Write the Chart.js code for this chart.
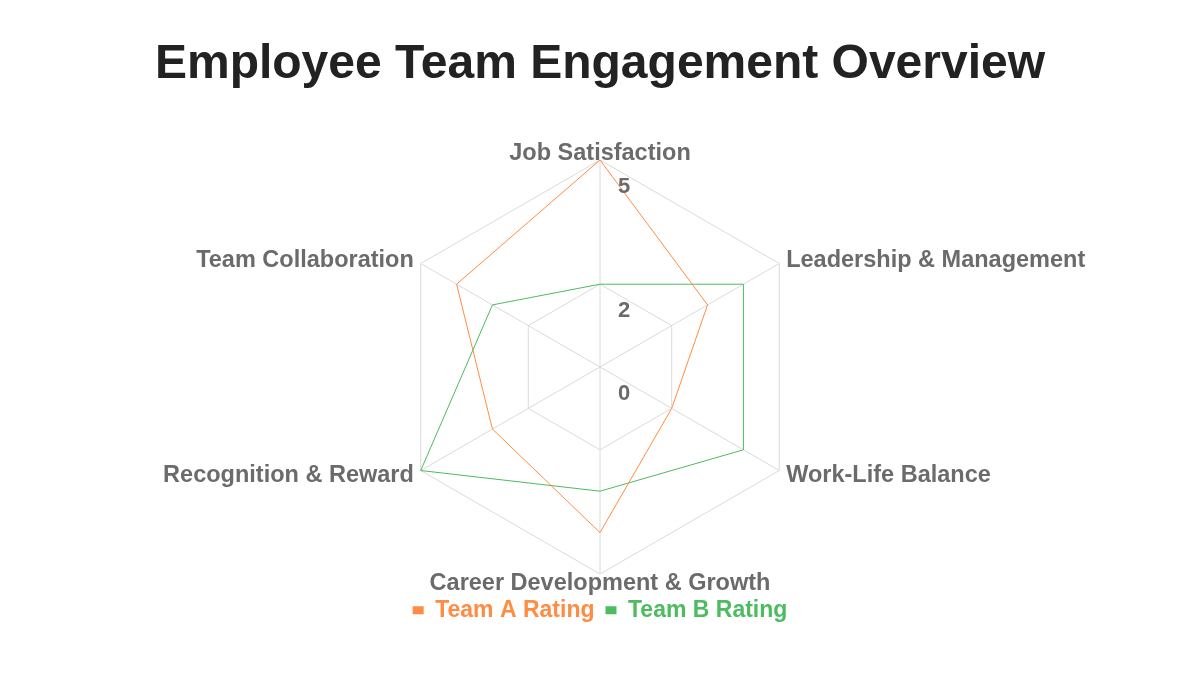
<!DOCTYPE html>
<html>
<head>
<meta charset="utf-8">
<title>Employee Team Engagement Overview</title>
<script src="https://cdn.jsdelivr.net/npm/chart.js@4.4.1/dist/chart.umd.min.js"></script>
<style>
  html, body { margin: 0; padding: 0; background: #fff; }
  #wrap { width: 1200px; height: 675px; position: relative; }
</style>
</head>
<body>
<div id="wrap"><canvas id="chart"></canvas></div>
<script>
// ── Data ───────────────────────────────────────────────
const categories = [
  'Job Satisfaction',
  'Leadership & Management',
  'Work-Life Balance',
  'Career Development & Growth',
  'Recognition & Reward',
  'Team Collaboration',
];
const teamA = [5, 3, 2, 4, 3, 4];
const teamB = [2, 4, 4, 3, 5, 3];
const seriesNames = ['Team A Rating', 'Team B Rating'];
const tickValues = [0, 2, 5];

// ── Style ──────────────────────────────────────────────
const FONT = '"Liberation Sans", Arial, Helvetica, sans-serif';
const ORANGE = '#ff8c42';
const GREEN = '#4dbb5f';
const GRAY = '#6b6b6b';
const GRID = '#dadada';

Chart.defaults.font.family = FONT;

// point labels sit on the vertices, tick labels sit right/below each ring
const radarText = {
  id: 'radarText',
  afterDraw(chart) {
    const r = chart.scales.r;
    const ctx = chart.ctx;
    ctx.save();
    ctx.fillStyle = GRAY;
    ctx.textBaseline = 'middle';

    ctx.font = `bold 23.5px ${FONT}`;
    categories.forEach((label, i) => {
      const p = r.getPointPosition(i, r.drawingArea + 8);
      const dx = p.x - r.xCenter;
      ctx.textAlign = Math.abs(dx) < 1 ? 'center' : (dx > 0 ? 'left' : 'right');
      ctx.fillText(label, p.x, p.y + 1.5);
    });

    ctx.font = `bold 22px ${FONT}`;
    ctx.textAlign = 'center';
    r.ticks.forEach(t => {
      const d = r.getDistanceFromCenterForValue(t.value);
      ctx.fillText(t.label, r.xCenter + 24, r.yCenter - d + 27);
    });
    ctx.restore();
  },
};

const colors = [ORANGE, GREEN];

new Chart(document.getElementById('chart'), {
  type: 'radar',
  data: {
    labels: categories,
    datasets: [teamA, teamB].map((values, i) => ({
      label: seriesNames[i],
      data: values,
      borderColor: colors[i],
      backgroundColor: colors[i],
      borderWidth: 1,
      fill: false,
      pointRadius: 0,
      pointHoverRadius: 0,
      tension: 0,
    })),
  },
  options: {
    responsive: true,
    maintainAspectRatio: false,
    animation: false,
    layout: { padding: { top: 0, bottom: 43.2, left: 0, right: 0 } },
    scales: {
      r: {
        min: 0,
        max: 5,
        afterBuildTicks: scale => { scale.ticks = tickValues.map(v => ({ value: v })); },
        ticks: { display: false },
        pointLabels: { display: false },
        grid: { color: GRID, lineWidth: 1 },
        angleLines: { color: GRID, lineWidth: 1 },
      },
    },
    plugins: {
      title: {
        display: true,
        text: 'Employee Team Engagement Overview',
        color: '#222',
        font: { size: 48, weight: 'bold' },
        padding: { top: 36, bottom: 66.4 },
      },
      legend: {
        position: 'bottom',
        title: { display: true, text: '', padding: 0, font: { size: 11.5 } },
        labels: {
          usePointStyle: true,
          pointStyle: 'rect',
          pointStyleWidth: 11,
          boxHeight: 8,
          padding: 11,
          font: { size: 23, weight: 'bold' },
          generateLabels(chart) {
            const items = Chart.defaults.plugins.legend.labels.generateLabels(chart);
            items.forEach((it, i) => {
              it.fillStyle = colors[i];
              it.strokeStyle = colors[i];
              it.fontColor = colors[i];
              it.lineWidth = 0;
              it.pointStyle = 'rect';
            });
            return items;
          },
        },
      },
      tooltip: { enabled: false },
    },
  },
  plugins: [radarText],
});
</script>
</body>
</html>
